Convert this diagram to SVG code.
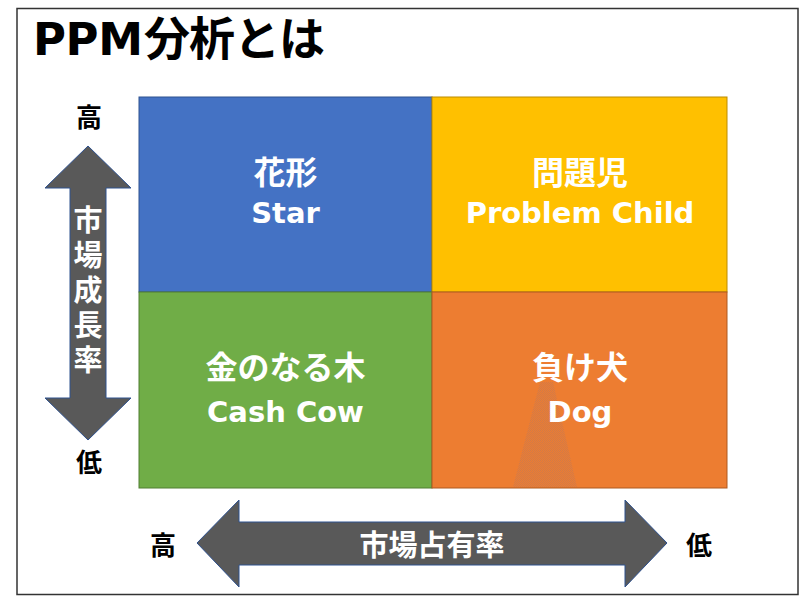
<svg xmlns="http://www.w3.org/2000/svg" width="800" height="596" viewBox="0 0 800 596">
<defs>
<style>
.lbl{font-family:"DejaVu Sans","Noto Sans CJK JP",sans-serif;font-weight:bold;fill:#fff;text-anchor:middle}
.jp{font-family:"Noto Sans CJK JP",sans-serif;font-weight:bold;font-size:32px}
.en{font-size:29px}
.axis{font-family:"Noto Sans CJK JP",sans-serif;font-weight:bold;font-size:26px;fill:#000;text-anchor:middle;dominant-baseline:central}
.arrow{fill:#595959;stroke:#2F528F;stroke-width:1}
.vt{font-family:"Noto Sans CJK JP",sans-serif;font-weight:bold;font-size:29px;fill:#fff;text-anchor:middle;dominant-baseline:central}
</style>
<pattern id="dith" width="2" height="2" patternUnits="userSpaceOnUse">
<rect width="2" height="2" fill="#ED7D31"/>
<rect width="1" height="1" fill="#D27A48"/>
<rect x="1" y="1" width="1" height="1" fill="#D27A48"/>
</pattern>
</defs>
<rect x="0" y="0" width="800" height="596" fill="#fff"/>
<rect x="17" y="8.5" width="781" height="586" fill="none" stroke="#333" stroke-width="1.5"/>
<g id="title">
<text x="33" y="55" font-family="DejaVu Sans,sans-serif" font-weight="bold" font-size="45" fill="#000" textLength="110">PPM</text>
<text x="144" y="55" font-family="Noto Sans CJK JP,sans-serif" font-weight="bold" font-size="46" fill="#000" textLength="181">分析とは</text>
</g>
<g id="star">
<rect x="139" y="97" width="293" height="195" fill="#4472C4" stroke="#2F528F"/>
<text class="lbl jp" x="285.5" y="184">花形</text>
<text class="lbl en" x="285.5" y="223">Star</text>
</g>
<g id="problem-child">
<rect x="432" y="97" width="295" height="195" fill="#FFC000" stroke="#BC8C00"/>
<text class="lbl jp" x="580" y="184">問題児</text>
<text class="lbl en" x="580" y="223">Problem Child</text>
</g>
<g id="cash-cow">
<rect x="139" y="292" width="293" height="196" fill="#70AD47" stroke="#507E32"/>
<text class="lbl jp" x="285.5" y="379">金のなる木</text>
<text class="lbl en" x="285.5" y="422">Cash Cow</text>
</g>
<g id="dog">
<rect x="432" y="292" width="295" height="196" fill="#ED7D31" stroke="#AE5A21"/>
<polygon points="540,382 553,382 577,487 513,487" fill="url(#dith)"/>
<text class="lbl jp" x="580" y="379">負け犬</text>
<text class="lbl en" x="580" y="422">Dog</text>
</g>
<g id="connectors">
<g id="growth-axis">
<polygon class="arrow" points="88,146 131,188 106,188 106,398 131,398 88,440 45,398 70,398 70,188 45,188"/>
<text x="88" y="293" font-family="Noto Sans CJK JP,sans-serif" font-weight="bold" font-size="29" fill="#fff" text-anchor="middle" writing-mode="vertical-rl" style="writing-mode:vertical-rl;text-orientation:upright" letter-spacing="6">市場成長率</text>
</g>
<g id="share-axis">
<polygon class="arrow" points="197,543 239,500 239,522 625,522 625,500 667,543 625,587 625,565 239,565 239,587"/>
<text class="vt" x="432" y="543">市場占有率</text>
</g>
</g>
<g id="axis-labels">
<text class="axis" x="89" y="115">高</text>
<text class="axis" x="89" y="460">低</text>
<text class="axis" x="163" y="543">高</text>
<text class="axis" x="699" y="543">低</text>
</g>
</svg>
